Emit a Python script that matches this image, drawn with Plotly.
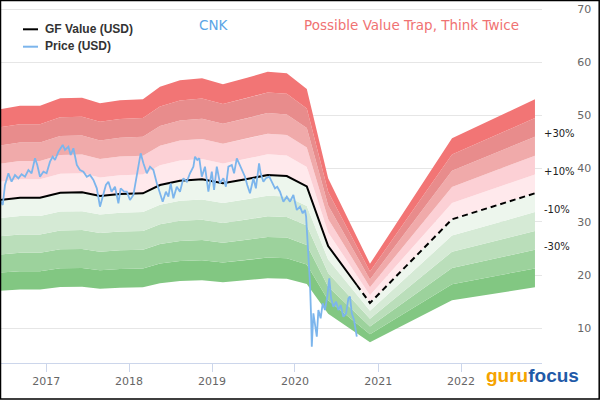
import plotly.graph_objects as go
import numpy as np
import pandas as pd

# ---------------- data ----------------
gf_dates = ["2016-06-10", "2016-09-08", "2016-12-05", "2017-03-04", "2017-06-08",
            "2017-08-26", "2017-11-22", "2018-03-03", "2018-05-17", "2018-08-13",
            "2018-11-18", "2019-02-18", "2019-06-04", "2019-09-03", "2019-11-26",
            "2020-02-22", "2020-05-26", "2020-11-26", "2021-11-22", "2022-11-22"]
gf_values = [34.10, 34.53, 34.53, 35.47, 35.55, 34.85, 35.23, 35.36, 36.92, 37.73,
             37.99, 37.24, 38.05, 38.80, 38.61, 36.64, 25.45, 14.74, 30.47, 35.36]

band_levels = [-0.5, -0.4, -0.3, -0.2, -0.1, 0.0, 0.1, 0.2, 0.3, 0.4, 0.5]
band_colors = ["#82c782", "#9cd29c", "#badeba", "#d5ead5", "#edf6ed",
               "#ffe9ec", "#fcd0d5", "#f0aaaa", "#e88c8c", "#f27575"]
band_label_levels = [0.3, 0.1, -0.1, -0.3]
band_label_texts = ["+30%", "+10%", "-10%", "-30%"]

price_start = "2016-06-12"
price_day_offsets = [0, 12, 22, 37, 51, 66, 81, 95, 110, 125, 139, 154, 164, 176, 191, 205,
                     220, 232, 242, 257, 276, 286, 301, 311, 323, 338, 352, 367, 382, 396,
                     411, 426, 440, 455, 466, 477, 491, 506, 521, 531, 546, 558, 572, 587,
                     598, 609, 619, 631, 646, 660, 675, 690, 704, 716, 730, 741, 751, 763,
                     778, 792, 807, 822, 836, 851, 858, 868, 877, 888, 902, 917, 932, 942,
                     954, 968, 983, 994, 1005, 1020, 1030, 1042, 1052, 1064, 1078, 1088,
                     1100, 1115, 1126, 1140, 1147, 1159, 1170, 1185, 1200, 1210, 1220, 1232,
                     1247, 1262, 1276, 1291, 1306, 1320, 1332, 1342, 1347, 1357, 1364, 1369,
                     1372, 1379, 1386, 1394, 1401, 1411, 1420, 1430, 1440, 1449, 1457, 1467,
                     1479, 1489, 1499, 1511, 1523, 1533, 1540, 1548, 1558, 1570]
price_values = [34.10, 33.16, 36.92, 39.12, 37.54, 38.80, 38.18, 38.93, 38.48, 39.74, 39.12,
                41.94, 40.68, 38.48, 39.42, 39.12, 41.30, 42.24, 41.62, 43.18, 44.44, 43.50,
                44.12, 42.56, 43.82, 40.68, 39.74, 39.42, 38.48, 38.80, 37.86, 36.30, 32.84,
                35.04, 36.92, 37.54, 35.66, 36.60, 33.48, 36.30, 35.66, 35.66, 34.10, 35.04,
                37.54, 40.36, 42.88, 41.00, 39.12, 40.36, 39.74, 37.24, 35.36, 33.78, 35.66,
                34.72, 37.24, 34.42, 36.60, 35.66, 38.18, 37.54, 39.12, 40.36, 42.24, 41.62,
                41.94, 38.48, 40.36, 35.66, 39.42, 35.98, 40.36, 37.24, 38.18, 36.60, 40.36,
                40.68, 39.12, 41.94, 41.00, 39.74, 38.48, 36.92, 35.36, 38.18, 36.30, 41.00,
                39.12, 37.54, 38.18, 38.48, 37.24, 36.30, 36.60, 35.66, 33.78, 34.72, 33.78,
                35.04, 32.22, 32.84, 31.60, 32.22, 30.96, 24.08, 18.44, 12.16, 6.52, 12.80,
                10.28, 8.40, 13.42, 11.86, 14.68, 13.42, 15.92, 19.38, 15.62, 14.04, 14.98,
                13.42, 14.36, 12.16, 12.80, 15.62, 15.92, 12.80, 11.54, 8.40]

x_tick_years = [2017, 2018, 2019, 2020, 2021, 2022]
y_ticks = [10, 20, 30, 40, 50, 60, 70]
x_range = ["2016-06-12", "2022-12-23"]
y_range = [3.46, 70.19]

title_text = "CNK"
warning_text = "Possible Value Trap, Think Twice"
legend_names = ["GF Value (USD)", "Price (USD)"]

# ---------------- geometry helpers ----------------
W, H = 600, 420
ML, MR, MT, MB = 0, 58, 8, 57
PW, PH = W - ML - MR, H - MT - MB


def px(xp):
    return (xp - ML) / PW


def py(yp):
    return 1 - (yp - MT) / PH


gf_x = pd.to_datetime(gf_dates)
gf_y = np.array(gf_values)
price_x = pd.Timestamp(price_start) + pd.to_timedelta(price_day_offsets, unit="D")

LINE_COLOR = "#000000"
PRICE_COLOR = "#7cb5ec"

fig = go.Figure()

# bands
for i in range(len(band_colors)):
    lo = gf_y * (1 + band_levels[i])
    hi = gf_y * (1 + band_levels[i + 1])
    xs = list(gf_x) + list(gf_x[::-1])
    ys = list(hi) + list(lo[::-1])
    fig.add_trace(go.Scatter(x=xs, y=ys, fill="toself", fillcolor=band_colors[i],
                             mode="lines", line=dict(width=0), hoverinfo="skip",
                             showlegend=False))

# GF value: solid through last price date, dashed after
split_date = price_x[-1]
t_gf = gf_x.astype("int64").to_numpy()
t_split = split_date.value
split_val = float(np.interp(t_split, t_gf, gf_y))
hist_mask = t_gf < t_split
solid_x = list(gf_x[hist_mask]) + [split_date]
solid_y = list(gf_y[hist_mask]) + [split_val]
dash_x = [split_date] + list(gf_x[~hist_mask])
dash_y = [split_val] + list(gf_y[~hist_mask])

fig.add_trace(go.Scatter(x=solid_x, y=solid_y, mode="lines",
                         line=dict(color=LINE_COLOR, width=2), showlegend=False))
fig.add_trace(go.Scatter(x=dash_x, y=dash_y, mode="lines",
                         line=dict(color=LINE_COLOR, width=2, dash="6px,4px"),
                         showlegend=False))

# price
fig.add_trace(go.Scatter(x=price_x, y=price_values, mode="lines",
                         line=dict(color=PRICE_COLOR, width=1.8), showlegend=False))

annotations = []
# band labels on right
for lvl, txt in zip(band_label_levels, band_label_texts):
    annotations.append(dict(xref="paper", yref="y", x=1.0, y=gf_y[-1] * (1 + lvl),
                            xanchor="left", yanchor="middle", xshift=0, yshift=3,
                            text=txt, showarrow=False,
                            font=dict(family="DejaVu Sans", size=10, color="#222222")))
# titles
annotations.append(dict(xref="paper", yref="paper", x=px(214), y=py(25), text=title_text,
                        showarrow=False, xanchor="center", yanchor="middle",
                        font=dict(family="DejaVu Sans", size=13.5, color="#5aa5e6")))
annotations.append(dict(xref="paper", yref="paper", x=px(411), y=py(25), text=warning_text,
                        showarrow=False, xanchor="center", yanchor="middle",
                        font=dict(family="DejaVu Sans", size=13.5, color="#f07272")))
# legend texts
for name, yy in zip(legend_names, [29, 46.5]):
    annotations.append(dict(xref="paper", yref="paper", x=px(43), y=py(yy), text="<b>%s</b>" % name,
                            showarrow=False, xanchor="left", yanchor="middle",
                            font=dict(family="Liberation Sans, Arial", size=12, color="#333333")))
# logo
annotations.append(dict(xref="paper", yref="paper", x=px(581), y=py(375),
                        text="<b><span style='color:#f5a300'>guru</span><span style='color:#1f5aa8'>focus</span></b>",
                        showarrow=False, xanchor="right", yanchor="middle",
                        font=dict(family="Liberation Sans", size=19)))

shapes = [
    dict(type="line", xref="paper", yref="paper", x0=px(23), x1=px(38), y0=py(29.3), y1=py(29.3),
         line=dict(color=LINE_COLOR, width=2)),
    dict(type="line", xref="paper", yref="paper", x0=px(23), x1=px(38), y0=py(46.7), y1=py(46.7),
         line=dict(color=PRICE_COLOR, width=2)),
    dict(type="rect", xref="paper", yref="paper", x0=px(0.5), x1=px(599.2), y0=py(0.5), y1=py(399),
         line=dict(color="#000000", width=1.5), fillcolor="rgba(0,0,0,0)", layer="above"),
]

fig.update_layout(
    width=W, height=H,
    margin=dict(l=ML, r=MR, t=MT, b=MB, pad=0),
    paper_bgcolor="white", plot_bgcolor="white",
    showlegend=False,
    annotations=annotations,
    shapes=shapes,
    xaxis=dict(type="date", range=x_range,
               tickvals=[pd.Timestamp(year=y, month=1, day=1) for y in x_tick_years],
               ticktext=[str(y) for y in x_tick_years],
               ticks="outside", ticklen=8, tickcolor="#ccd6eb", tickwidth=1,
               showline=True, linecolor="#ccd6eb", linewidth=1,
               showgrid=False, zeroline=False,
               tickfont=dict(family="DejaVu Sans", size=11, color="#666666")),
    yaxis=dict(range=y_range, side="right", tickvals=y_ticks,
               showgrid=True, gridcolor="#e6e6e6", gridwidth=1,
               zeroline=False, showline=False,
               ticks="outside", ticklen=32, tickcolor="rgba(0,0,0,0)",
               tickfont=dict(family="DejaVu Sans", size=11, color="#666666")),
    hovermode=False,
)

fig.write_html("out.html", config={"displayModeBar": False},
               post_script="document.body.style.margin='0';document.body.style.overflow='hidden';")
